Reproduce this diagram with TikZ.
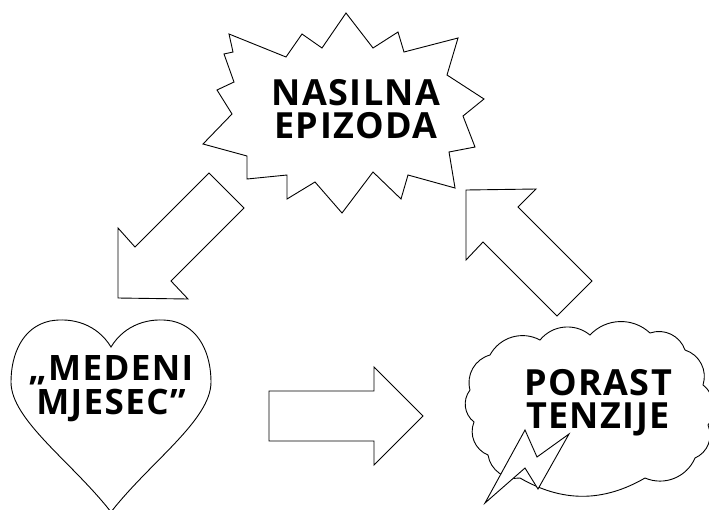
\documentclass[tikz,border=0pt]{standalone}
\usepackage{fontspec}
\newfontfamily\lblfont{Open Sans}[LetterSpace=4.0]
\begin{document}
\begin{tikzpicture}[x=1pt,y=-1pt,
  outl/.style={draw=black,line width=0.9pt,fill=white,line join=miter},
  lbl/.style={align=center,inner sep=0pt,font=\lblfont\bfseries\fontsize{36}{33}\selectfont}]
\useasboundingbox (0,0) rectangle (709,509);
% starburst
\draw[outl] (346,13) -- (373,48) -- (398,32) -- (404,52) -- (458,38) -- (447,75) -- (484,99) -- (463,116) -- (475,147) -- (449,152) -- (455,188) -- (408,175) -- (401,199) -- (373,172) -- (342,213) -- (315,182) -- (287,199) -- (287,175) -- (247,179) -- (247,156) -- (203,144) -- (232,114) -- (217,90) -- (234,82) -- (224,54) -- (233,52) -- (229,34) -- (286,57) -- (302,34) -- (322,48) -- cycle;
\node[lbl] (burst) at (356,109) {NASILNA\\EPIZODA};
% heart
\draw[outl] (111,347) .. controls (125,324) and (150,317) .. (172,321)
  .. controls (200,327) and (211,355) .. (211,382)
  .. controls (211,420) and (150,462) .. (111,512)
  .. controls (72,462) and (11,420) .. (11,382)
  .. controls (11,355) and (22,327) .. (50,321)
  .. controls (72,317) and (97,324) .. cycle;
\node[lbl, font=\lblfont\bfseries\fontsize{35}{34}\selectfont] (heart) at (111,389) {„MEDENI\\MJESEC”};
% cloud
\draw[outl] (490,355) to[bend left=45] (540,340) to[bend left=45] (590,335)
  to[bend left=45] (650,333) to[bend left=45] (685,350) to[bend left=45] (703,385)
  to[bend left=45] (708,425) to[bend left=45] (695,458) to[bend left=45] (645,478)
  to[bend left=30] (520,478) to[bend left=45] (488,455) to[bend left=45] (474,422)
  to[bend left=45] (470,390) to[bend left=45] cycle;
\node[lbl] (cloud) at (598,403) {PORAST\\TENZIJE};
% lightning
\draw[outl] (485,503) -- (525,430) -- (537,457) -- (569,434) -- (538,489) -- (525,468) -- cycle;
% block arrows
\draw[outl] (209,173) -- (244,208) -- (171,281) -- (188,299) -- (118,298) -- (118,228) -- (135,247) -- cycle;
\draw[outl] (592,281) -- (557,316) -- (483,242) -- (466,260) -- (466,190) -- (536,189) -- (518,207) -- cycle;
\draw[outl] (269,391) -- (374,391) -- (374,367) -- (423,416) -- (374,465) -- (374,441) -- (269,441) -- cycle;
\end{tikzpicture}
\end{document}
